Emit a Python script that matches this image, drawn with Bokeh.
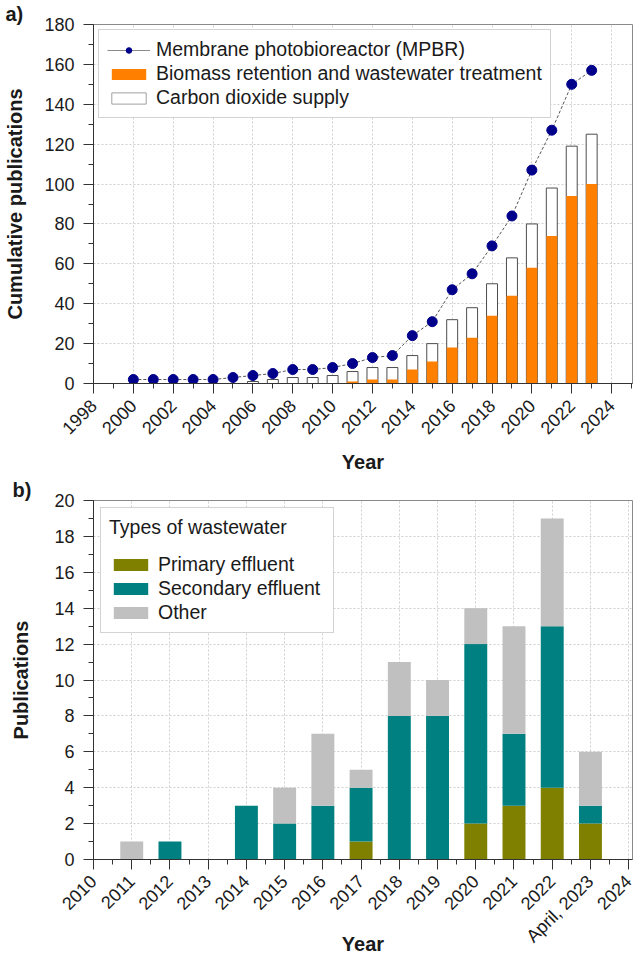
import math
from bokeh.plotting import figure
from bokeh.layouts import column
from bokeh.models import (ColumnDataSource, Legend, LegendItem, Title, FixedTicker, Range1d)
from bokeh.embed import file_html
from bokeh.resources import INLINE

FONT = "Liberation Sans"

# ---------------- Panel a data ----------------
mpbr_years = list(range(2000, 2024))
mpbr_cumulative = [2, 2, 2, 2, 2, 3, 4, 5, 7, 7, 8, 10, 13, 14, 24, 31, 47, 55, 69, 84, 107, 127, 150, 157]
bar_years = list(range(2006, 2024))
bar_total = [1, 2, 3, 3, 4, 6, 8, 8, 14, 20, 32, 38, 50, 63, 80, 98, 119, 125]
biomass_retention = [0, 0, 0, 0, 0, 1, 2, 2, 7, 11, 18, 23, 34, 44, 58, 74, 94, 100]

# ---------------- Panel b data ----------------
years_b = list(range(2011, 2024))
primary_effluent = [0, 0, 0, 0, 0, 0, 1, 0, 0, 2, 3, 4, 2]
secondary_effluent = [0, 1, 0, 3, 2, 3, 3, 8, 8, 10, 4, 9, 1]
other = [1, 0, 0, 0, 2, 4, 1, 3, 2, 2, 6, 6, 3]
year_labels_b = {2023: "April, 2023"}


def style(p, ylabel, ylab_standoff, xlab_standoff):
    p.outline_line_color = "#8a8a8a"
    p.outline_line_width = 1
    p.background_fill_color = "white"
    p.border_fill_color = "white"
    for ax in (p.xaxis[0], p.yaxis[0]):
        ax.axis_line_color = "#333333"
        ax.major_tick_line_color = "#333333"
        ax.minor_tick_line_color = "#333333"
        ax.major_tick_out = 10
        ax.major_tick_in = 0
        ax.minor_tick_out = 5
        ax.minor_tick_in = 0
        ax.major_label_text_font = FONT
        ax.major_label_text_font_size = "18px"
        ax.major_label_text_color = "#1a1a1a"
        ax.axis_label_text_font = FONT
        ax.axis_label_text_font_size = "20px"
        ax.axis_label_text_font_style = "bold"
        ax.axis_label_text_color = "#1a1a1a"
        ax.major_label_standoff = 9
    p.xaxis[0].axis_label = "Year"
    p.yaxis[0].axis_label = ylabel
    p.yaxis[0].axis_label_standoff = ylab_standoff
    p.xaxis[0].axis_label_standoff = xlab_standoff
    p.xaxis[0].major_label_orientation = math.pi / 4
    for g in (p.xgrid[0], p.ygrid[0]):
        g.grid_line_color = "#cfcfcf"
        g.grid_line_dash = "2 2"
        g.grid_line_width = 1


def panel_title(text, offset):
    return Title(text=text, align="left", offset=offset, standoff=0,
                 vertical_align="bottom", text_font=FONT, text_font_size="20px",
                 text_font_style="bold", text_color="#1a1a1a")


# ---------------- Panel a ----------------
p1 = figure(width=637, height=476, output_backend="svg", toolbar_location=None,
            x_range=Range1d(1998, 2025.05), y_range=Range1d(0, 180),
            min_border_left=93, min_border_right=3, min_border_top=23, min_border_bottom=93,
            title=panel_title("a)", -88))
style(p1, "Cumulative publications", 15, 8)
p1.xaxis[0].ticker = FixedTicker(ticks=list(range(1998, 2025, 2)), minor_ticks=list(range(1998, 2026)))
p1.yaxis[0].ticker = FixedTicker(ticks=list(range(0, 181, 20)), minor_ticks=list(range(0, 181, 10)))

src_bar = ColumnDataSource(dict(x=bar_years, total=bar_total, bio=biomass_retention))
r_white = p1.vbar(x="x", top="total", bottom=0, width=0.55, source=src_bar,
                  fill_color="white", line_color="#4d4d4d", line_width=1)
r_orange = p1.vbar(x="x", top="bio", bottom=0, width=0.55, source=src_bar,
                   fill_color="#FF8000", line_color=None)
src_m = ColumnDataSource(dict(x=mpbr_years, y=mpbr_cumulative))
r_line = p1.line(x="x", y="y", source=src_m, line_color="#555555", line_width=1, line_dash="3 2")
r_dot = p1.scatter(x="x", y="y", source=src_m, size=10, fill_color="#00008B", line_color="#00008B")

# legend-only styles (hidden renderers sharing the same data)
key_line = p1.line(x="x", y="y", source=src_m, line_color="#8a8a8a", line_width=1, visible=False)
key_dot = p1.scatter(x="x", y="y", source=src_m, size=10, fill_color="#00008B",
                     line_color="#00008B", visible=False)
key_white = p1.vbar(x="x", top="total", width=0.55, source=src_bar, fill_color="white",
                    line_color="#a0a0a0", visible=False)

leg1 = Legend(items=[
    LegendItem(label="Membrane photobioreactor (MPBR)", renderers=[key_line, key_dot]),
    LegendItem(label="Biomass retention and wastewater treatment", renderers=[r_orange]),
    LegendItem(label="Carbon dioxide supply", renderers=[key_white]),
], location="top_left", margin=5)
leg1.label_text_font = FONT
leg1.label_text_font_size = "19.5px"
leg1.label_text_color = "#1a1a1a"
leg1.glyph_width = 43
leg1.glyph_height = 14
leg1.label_height = 22
leg1.spacing = 1
leg1.padding = 8
leg1.label_standoff = 6
leg1.border_line_color = "#a8a8a8"
leg1.border_line_width = 1
leg1.background_fill_alpha = 1
leg1.inactive_fill_alpha = 0
p1.add_layout(leg1)

# ---------------- Panel b ----------------
p2 = figure(width=637, height=482, output_backend="svg", toolbar_location=None,
            x_range=Range1d(2010, 2024.1), y_range=Range1d(0, 20),
            min_border_left=86, min_border_right=5, min_border_top=21, min_border_bottom=97,
            title=panel_title("b)", -81))
style(p2, "Publications", 19, -23)
p2.xaxis[0].ticker = FixedTicker(ticks=list(range(2010, 2025)),
                                 minor_ticks=[2010 + 0.5 * i for i in range(29)])
p2.xaxis[0].major_label_overrides = year_labels_b
p2.yaxis[0].ticker = FixedTicker(ticks=list(range(0, 21, 2)), minor_ticks=list(range(0, 21)))

src_b = ColumnDataSource(dict(x=years_b, primary=primary_effluent,
                              secondary=secondary_effluent, other=other))
stack = p2.vbar_stack(["primary", "secondary", "other"], x="x", width=0.6, source=src_b,
                      color=["#808000", "#008080", "#C0C0C0"], line_width=0)

leg2 = Legend(items=[
    LegendItem(label="Primary effluent", renderers=[stack[0]]),
    LegendItem(label="Secondary effluent", renderers=[stack[1]]),
    LegendItem(label="Other", renderers=[stack[2]]),
], location="top_left", margin=7, title="Types of wastewater")
leg2.title_text_font = FONT
leg2.title_text_font_size = "19.5px"
leg2.title_text_font_style = "normal"
leg2.title_text_color = "#1a1a1a"
leg2.title_standoff = 14
leg2.label_text_font = FONT
leg2.label_text_font_size = "19.5px"
leg2.label_text_color = "#1a1a1a"
leg2.glyph_width = 43
leg2.glyph_height = 15
leg2.label_height = 22
leg2.label_width = 167
leg2.spacing = 1
leg2.padding = 8
leg2.label_standoff = 6
leg2.border_line_color = "#a8a8a8"
leg2.border_line_width = 1
p2.add_layout(leg2)

layout = column(p1, p2, spacing=0)
open("out.html", "w").write(file_html(layout, INLINE))
